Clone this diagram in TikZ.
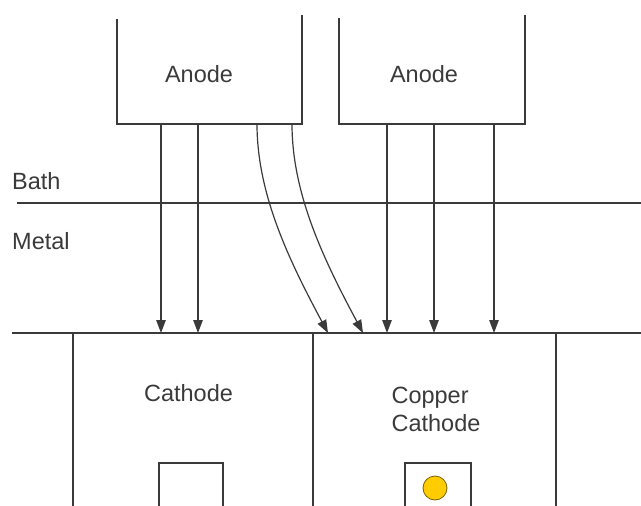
\documentclass[tikz,border=0pt]{standalone}
\usepackage{fontspec}
\setmainfont{Liberation Sans}
\usetikzlibrary{arrows.meta}
\definecolor{ln}{HTML}{3A3A3A}
\definecolor{gold}{HTML}{FFCC00}
\definecolor{goldedge}{HTML}{7A6200}
\begin{document}
\begin{tikzpicture}[x=1pt,y=-1pt,
  wire/.style={draw=ln,line width=1.4pt},
  flow/.style={draw=ln,line width=1.2pt,-{Triangle[length=13pt,width=9.5pt]}},
  lbl/.style={font=\fontsize{23.5}{28}\selectfont,text=ln,inner sep=0pt},
  sidelbl/.style={lbl,anchor=west}]
\useasboundingbox (0,0) rectangle (641,506);
% anode boxes (open at top)
\draw[wire] (117,19) -- (117,124) -- (302,124) -- (302,15);
\draw[wire] (339,18) -- (339,124) -- (525,124) -- (525,15);
\node[lbl] (anodeL) at (199,74) {Anode};
\node[lbl] (anodeR) at (424,74) {Anode};
% bath / metal interface
\draw[wire] (17,203) -- (641,203);
\node[sidelbl] (bath) at (12,181) {Bath};
\node[sidelbl] (metal) at (12,241) {Metal};
% cathode surface
\draw[wire] (12,333) -- (641,333);
\draw[wire] (73,333) -- (73,506);
\draw[wire] (313,333) -- (313,506);
\draw[wire] (556,333) -- (556,506);
\node[lbl] (cath) at (188.5,393) {Cathode};
\node[lbl,align=left] (copper) at (436,409) {Copper\\Cathode};
% stubs
\draw[wire] (159,506) -- (159,463) -- (223,463) -- (223,506);
\draw[wire] (405,506) -- (405,463) -- (471,463) -- (471,506);
\node[circle,minimum size=24pt,inner sep=0pt,fill=gold,draw=goldedge,line width=0.8pt] (dot) at (435,488) {};
% current paths
\foreach \x/\n in {161/a,198/b,387/c,434/d,494/e}{
  \coordinate (s\n) at (\x,124);
  \coordinate (t\n) at (\x,333);
  \draw[flow] (s\n) -- (t\n);
}
\coordinate (sf) at (257,124); \coordinate (tf) at (328,333);
\coordinate (sg) at (292,124); \coordinate (tg) at (363,333);
\draw[flow] (sf) .. controls (257,195) and (290,262) .. (tf);
\draw[flow] (sg) .. controls (292,195) and (325,262) .. (tg);
\end{tikzpicture}
\end{document}
